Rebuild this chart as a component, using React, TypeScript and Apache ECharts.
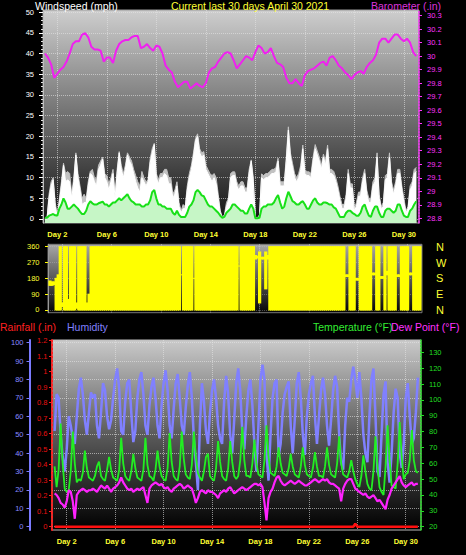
import React, { useEffect, useRef } from "react";
import * as echarts from "echarts";

// ---------- tick labels ----------
const dayTicks = [2, 6, 10, 14, 18, 22, 26, 30];
const windLabelTicks = [0, 5, 10, 15, 20, 25, 30, 35, 40, 45, 50];
const windMinorTicks = [0,1,2,3,4,5,6,7,8,9,10,11,12,13,14,15,16,17,18,19,20,21,22,23,24,25,26,27,28,29,30,31,32,33,34,35,36,37,38,39,40,41,42,43,44,45,46,47,48,49,50];
const baroTicks = [28.8, 28.9, 29, 29.1, 29.2, 29.3, 29.4, 29.5, 29.6, 29.7, 29.8, 29.9, 30, 30.1, 30.2, 30.3];
const dirTicks = [0, 90, 180, 270, 360];
const dirLetters = ["N", "E", "S", "W", "N"];
const humTicks = [0, 10, 20, 30, 40, 50, 60, 70, 80, 90, 100];
const rainTicks = [0, 0.1, 0.2, 0.3, 0.4, 0.5, 0.6, 0.7, 0.8, 0.9, 1, 1.1, 1.2];
const tempTicks = [20, 30, 40, 50, 60, 70, 80, 90, 100, 110, 120, 130];

// ---------- series (day 1 .. day 31) ----------
// barometer, 4 samples per day
const barometer = [
  30.02,29.99,29.94,29.84, 29.87,29.90,29.92,29.96, 30.02,30.09,30.11,30.11, 30.16,30.17,30.14,30.07,
  30.05,30.05,30.04,29.96, 29.99,29.99,29.95,30.04, 30.09,30.11,30.12,30.12, 30.14,30.15,30.15,30.06,
  30.07,30.09,30.06,30.04, 30.08,30.07,30.02,29.93, 29.90,29.88,29.81,29.77, 29.79,29.81,29.81,29.76,
  29.78,29.80,29.78,29.77, 29.80,29.88,29.91,29.92, 29.96,29.99,30.02,30.03, 30.02,29.97,29.91,29.94,
  29.97,30.00,29.99,29.97, 30.03,30.08,30.06,30.02, 30.03,30.06,30.00,29.95, 29.94,29.92,29.84,29.80,
  29.80,29.83,29.80,29.78, 29.86,29.89,29.90,29.91, 29.93,29.95,29.96,29.93, 29.99,30.00,29.97,29.93,
  29.91,29.88,29.86,29.83, 29.86,29.88,29.89,29.87, 29.92,29.95,29.97,30.01, 30.10,30.13,30.13,30.10,
  30.13,30.16,30.16,30.13, 30.11,30.13,30.10,30.03, 30.00,
];

// wind, 6 samples per day
const gustMax = [
  0,0,6,9,10,4, 1,5,9,13.5,11,11.5, 11,6,10,16,11,8, 5,6,5,9,11.5,12, 10,9.5,13,14,15,11,
  10.5,8.5,10,12,6,12, 16.3,13,11,13,16,15, 14,12,10.5,9,8,11.5, 10,9,9.5,14.5,17,18.3, 11,9.5,11,11,12,12,
  10,10,6,7,9,4, 2,3.5,3,8,11,13, 16,19.5,20.6,17,16,16.3, 13,12,11,10.5,11,10, 6,2,0.5,1,4,5,
  11,11.4,11.4,9,8,9, 9,7.5,7.5,12,14.3,10, 0.5,0.3,1,10.9,10.5,11, 11,11.5,12,12,12.5,14.7, 9,9,9,15,22.3,16,
  13.5,11,10,11,13,17.9, 12,11.4,11.4,11,15,18, 16.5,15,12.9,15.7,14,17.9, 12,12,11.5,10,8,5.5, 3.5,3.5,6,12,8.5,8.5,
  2.5,4,6.5,6.5,10,12, 7,5,5,9,10,16, 6,3,4,10.5,11,16, 9,7,9,12,12,8, 5,2,3,8,9,12,
  12.5,
];
const gust = [
  0,0,5,8,9.5,3, 0.5,4,8,13,9,9.5, 9,5,9,15.5,10,7, 3.5,4,4,8,11,10.5, 9,8,12,13,14.5,10,
  9,7,9,11,5,11, 16,12,10,12,15.5,14, 13,11,9,7.5,6.5,10, 9,8,9,13.5,16,18, 10,8.5,10,10,11,10.5,
  8.5,8.5,5,6,8,3, 1.5,2.5,2.5,7,10,12, 15,19,20,16,15,15.5, 12,11,10,9,10,8.5, 5,1.5,0.3,0.5,3,4.5,
  10,10.5,10.5,8,7,8, 8,6.5,6.5,11,14,9, 0.3,0.2,0.5,10,9.5,10, 10,10.5,11,11,11.5,14, 8,8,8,14,21.5,15,
  12.5,10,9,10,12,17, 11,10.5,10.5,10,14,17, 15.5,14,12,15,13,17, 11,11,10.5,9,7,4.5, 2.5,2.5,5,11,7.5,7.5,
  2,3,5.5,5.5,9,11, 6,4,4,8,9,15, 5,2.5,3,9.5,10,15, 8,6,8,11,11,7, 4,1.5,2.5,7,8,11,
  11.5,
];
const windAvg = [
  0.3,0.3,0.8,1,1.2,0.9, 0.8,2.5,3.5,5,4,2.5, 2.5,3,3.5,3,2.5,1.8, 1.2,1.2,2,3.5,4.3,3.8, 3.5,3.5,3.8,4,4.2,3.5,
  3.5,3,3.5,4,4,4.5, 5,4.5,5,5.5,6,5, 4.3,4,3.5,3.5,3.5,3, 3,3.5,3.5,4.5,6.5,7, 5,3.5,3.5,3,3,2.5,
  2.5,2.5,1.5,1,2,1, 0.5,0.5,0.5,1.5,3,3.5, 4.5,6.5,7,6.5,5.7,5.5, 4.5,3.5,3,3,2.5,2, 1.5,0.8,0.3,0.5,1.5,2,
  2.5,3.5,3.5,3,2.5,2, 2,1.3,1.3,2.5,3.5,2.5, 0.2,0.2,0.3,2.5,3,3, 3.5,3.5,3.5,4,5,5.8, 4,2.5,3,5,6.6,5.5,
  4.3,4,3.5,3.5,4,4.3, 3.5,2.5,2.5,3.5,4.5,5, 4,3.5,3.5,4,4,3.8, 3.5,3.5,2.8,2.5,1.5,0.5, 0.5,0.5,1.5,2,2,1.5,
  1.2,0.8,0.8,1.5,3,3.5, 2,0.8,0.5,2,3,3, 1.5,0.5,0.5,2,2.5,2.5, 2,1.5,2,3.5,3.5,2, 0.8,0.5,0.5,2,2.5,3.5,
  4.3,
];

// wind direction spread (degrees), 6 samples per day
const windDirLow = [
  140,140,145,0,0,0, 20,0,0,0,0,0, 0,10,0,0,0,0, 0,0,0,0,0,0, 0,0,0,0,0,0,
  0,0,0,0,0,0, 0,0,0,0,0,0, 0,0,0,0,0,0, 0,0,0,0,0,0, 0,0,0,0,0,0,
  0,0,0,0,200,0, 0,0,0,0,180,0, 0,0,0,0,0,0, 0,0,0,0,0,0, 0,0,0,0,0,0,
  0,0,250,0,0,0, 0,0,0,0,290,295, 40,290,290,120,290,0, 0,0,0,0,0,0, 0,0,0,0,0,0,
  0,0,0,0,0,0, 0,0,0,0,0,0, 0,0,0,0,0,0, 0,0,0,0,0,0, 190,190,0,0,0,170,
  170,0,0,0,0,0, 0,200,200,0,0,180, 180,0,200,0,0,0, 0,190,190,0,0,0, 0,200,200,0,0,0,
  0,
];
const windDirHigh = [
  165,160,160,180,200,360, 40,360,360,60,360,360, 360,40,360,360,360,360, 40,90,360,360,360,360, 360,360,360,360,360,360,
  360,360,360,360,360,360, 360,360,360,360,360,360, 360,360,360,360,360,360, 360,360,360,360,360,360, 360,360,360,360,360,360,
  360,360,360,360,200,360, 360,360,360,360,180,360, 360,360,360,360,360,360, 360,360,360,360,360,360, 360,360,360,360,360,360,
  360,360,250,360,360,360, 360,360,360,360,310,305, 330,300,300,330,310,360, 360,360,360,360,360,360, 360,360,360,360,360,360,
  360,360,360,360,360,360, 360,360,360,360,360,360, 360,360,360,360,360,360, 360,360,360,360,360,360, 200,200,360,360,360,180,
  180,360,360,360,360,360, 360,210,210,360,360,190, 190,360,220,360,360,360, 360,200,200,360,360,360, 360,210,210,360,360,360,
  360,
];

// bottom panel, 6 samples per day
const humidity = [
  52,72,70,50,38,30, 42,60,55,48,45,60, 75,81,72,58,50,62, 73,70,72,55,48,62, 78,74,60,53,58,70,
  80,86,75,52,50,68, 78,80,62,46,52,70, 80,84,72,55,50,66, 76,81,70,55,48,66, 78,85,74,55,48,64,
  78,83,70,55,50,65, 77,84,70,48,35,20, 55,78,68,52,45,62, 74,80,70,55,48,45, 68,82,72,50,40,58,
  78,86,74,52,42,60, 74,80,66,45,30,55, 80,88,80,40,25,50, 70,78,80,38,45,62, 72,76,79,55,40,58,
  78,84,70,50,39,60, 72,78,82,60,45,60, 74,81,72,55,44,58, 74,82,76,50,35,31, 55,70,68,80,87,80,
  70,84,70,50,40,35, 60,80,86,60,30,27, 50,72,79,35,24,40, 62,75,70,40,32,45, 70,78,60,45,48,62,
  81,
];
const temperature = [
  58,45,56,85,60,44, 42,43,55,80,60,48, 50,49,54,68,57,51, 50,49,52,58,61,52, 50,49,56,64,56,51,
  50,49,56,76,60,52, 50,49,55,66,57,51, 50,49,56,76,59,52, 51,49,56,68,58,52, 50,49,57,79,61,52,
  50,49,58,80,63,53, 51,50,59,80,64,54, 51,49,55,64,66,52, 50,49,57,74,61,52, 50,49,57,74,61,52,
  50,52,62,83,62,52, 52,51,60,75,60,53, 52,51,62,84,64,54, 53,52,58,70,60,54, 53,52,57,66,58,53,
  52,51,58,70,59,53, 52,51,57,67,58,52, 52,51,58,70,59,53, 52,51,60,77,60,53, 52,51,55,62,55,50,
  47,45,52,65,55,47, 44,43,55,77,58,45, 42,40,58,84,62,46, 45,44,60,86,64,50, 53,54,62,81,62,55,
  54,
];
const dewPoint = [
  41,40,38,35,34,32, 36,43,42,36,25,40, 42,43,44,43,42,43, 43,44,43,42,44,46, 45,44,46,44,42,44,
  45,46,48,51,48,46, 44,43,44,42,43,44, 43,44,45,40,35,44, 46,47,48,47,46,47, 45,44,45,43,42,44,
  45,46,47,46,44,45, 46,45,44,40,35,38, 42,43,42,41,43,42, 42,41,40,38,41,42, 43,42,44,45,43,41,
  42,43,44,45,44,43, 44,45,46,47,47,46, 47,45,35,24,38,42, 44,48,51,52,49,47, 46,47,48,49,48,47,
  48,49,48,47,46,46, 47,48,49,50,49,48, 49,50,49,50,48,47, 47,46,45,44,36,44, 47,49,50,50,47,44,
  43,42,41,40,41,39, 38,39,40,38,36,37, 35,33,31,37,40,44, 46,48,50,52,48,46, 45,46,47,48,46,47,
  47,
];
const rainfall = [
  0,0,0,0,0,0, 0,0,0,0,0,0, 0,0,0,0,0,0, 0,0,0,0,0,0, 0,0,0,0,0,0,
  0,0,0,0,0,0, 0,0,0,0,0,0, 0,0,0,0,0,0, 0,0,0,0,0,0, 0,0,0,0,0,0,
  0,0,0,0,0,0, 0,0,0,0,0,0, 0,0,0,0,0,0, 0,0,0,0,0,0, 0,0,0,0,0,0,
  0,0,0,0,0,0, 0,0,0,0,0,0, 0,0,0,0,0,0, 0,0,0,0,0,0, 0,0,0,0,0,0,
  0,0,0,0,0,0, 0,0,0,0,0,0, 0,0,0,0,0,0, 0,0,0,0,0,0, 0,0,0,0,0,0.02,
  0,0,0,0,0,0, 0,0,0,0,0,0, 0,0,0,0,0,0, 0,0,0,0,0,0, 0,0,0,0,0,0,
  0,
];

const FONT = '"Liberation Sans", Arial, sans-serif';
const STEP = 1 / 6;
const at6 = (arr: number[]) => arr.map((v, i) => [1 + i * STEP, v]);
const at4 = (arr: number[]) => arr.map((v, i) => [1 + i / 4, v]);
const fmt1 = (v: number) => String(Math.round(v * 10) / 10);

const dotted = { show: true, lineStyle: { type: "dotted" as const, color: "rgba(228,228,228,0.6)", width: 1 } };
const grad = (stops: [number, string][]) =>
  new echarts.graphic.LinearGradient(0, 0, 0, 1, stops.map(([offset, color]) => ({ offset, color })));

function xAxisFor(gridIndex: number, min: number, max: number, labels: boolean) {
  return {
    type: "value", gridIndex, min, max,
    axisLine: { show: false },
    axisTick: { show: false, customValues: dayTicks },
    axisLabel: {
      show: labels, customValues: dayTicks, formatter: (v: number) => "Day " + v,
      color: "#ffff33", fontSize: 7.5, fontWeight: "bold", fontFamily: FONT, margin: 7,
    },
    splitLine: dotted,
  };
}

export default function App() {
  const ref = useRef<HTMLDivElement>(null);
  useEffect(() => {
    if (!ref.current) return;
    const chart = echarts.init(ref.current, undefined, { renderer: "svg" });
    const lab = (color: string, extra: any = {}) => ({ color, fontSize: 7.5, fontFamily: FONT, ...extra });
    const dirData = windDirLow.map((lo, i) => [1 + i * STEP, lo, windDirHigh[i]]);
    const option: any = {
      animation: false,
      backgroundColor: "#000",
      grid: [
        { left: 43, top: 10, width: 376, height: 213, show: true, borderColor: "#9a9a9a", borderWidth: 1,
          backgroundColor: grad([[0, "#cecece"], [1, "#121212"]]) },
        { left: 48, top: 244.3, width: 374, height: 68.4, show: true, borderColor: "#777", borderWidth: 1,
          backgroundColor: grad([[0, "#a8a8a8"], [1, "#050505"]]) },
        { left: 52, top: 340, width: 369, height: 190, show: true, borderColor: "#bbbbbb", borderWidth: 1,
          backgroundColor: grad([[0, "#cacaca"], [0.5, "#5a5a5a"], [1, "#000000"]]) },
      ],
      xAxis: [
        xAxisFor(0, 0.845, 31.22, true),
        xAxisFor(1, 0.838, 31.17, false),
        xAxisFor(2, 0.785, 31.26, true),
      ],
      yAxis: [
        { type: "value", gridIndex: 0, position: "left", min: -0.97, max: 50.56,
          axisLine: { show: true, lineStyle: { color: "#bdbdbd" } },
          axisTick: { show: true, customValues: windMinorTicks, length: 2, lineStyle: { color: "#e0e0e0" } },
          axisLabel: { customValues: windLabelTicks, margin: 9, ...lab("#ffffff") },
          splitLine: { show: false } },
        { type: "value", gridIndex: 0, position: "left", min: -0.97, max: 50.56,
          axisLine: { show: false },
          axisTick: { show: true, customValues: windLabelTicks, length: 4, lineStyle: { color: "#ffffff" } },
          axisLabel: { show: false }, splitLine: dotted },
        { type: "value", gridIndex: 0, position: "right", min: 28.765, max: 30.342,
          axisLine: { show: true, lineStyle: { color: "#ff33ff", type: "dotted", width: 1.5 } },
          axisTick: { show: true, customValues: baroTicks, length: 3, lineStyle: { color: "#ff33ff" } },
          axisLabel: { customValues: baroTicks, margin: 8, formatter: fmt1, ...lab("#ff33ff") },
          splitLine: { show: false } },
        { type: "value", gridIndex: 1, position: "left", min: -15.4, max: 373.6,
          axisLine: { show: true, lineStyle: { color: "#999" } },
          axisTick: { show: true, customValues: dirTicks, length: 3, lineStyle: { color: "#ffff00" } },
          axisLabel: { customValues: dirTicks, margin: 8.5, ...lab("#ffff33") },
          splitLine: { show: true, lineStyle: { type: "dotted", color: "rgba(200,200,200,0.35)" } } },
        { type: "value", gridIndex: 1, position: "right", min: -15.4, max: 373.6,
          axisLine: { show: false }, axisTick: { show: false, customValues: dirTicks },
          axisLabel: { customValues: dirTicks, margin: 14, formatter: (v: number) => dirLetters[dirTicks.indexOf(v)] ?? "",
            color: "#ffff33", fontSize: 11, fontFamily: FONT },
          splitLine: { show: false } },
        { type: "value", gridIndex: 2, position: "left", offset: 22.5, min: -1.79, max: 101.47,
          axisLine: { show: true, lineStyle: { color: "#7b7bff", width: 2 } },
          axisTick: { show: true, customValues: humTicks, length: 3, lineStyle: { color: "#7b7bff" } },
          axisLabel: { customValues: humTicks, margin: 6, ...lab("#8a8aff") },
          splitLine: dotted },
        { type: "value", gridIndex: 2, position: "left", min: -0.0213, max: 1.2045,
          axisLine: { show: true, lineStyle: { color: "#ff2020", type: "dotted", width: 2 } },
          axisTick: { show: true, customValues: rainTicks, length: 3, lineStyle: { color: "#ff2020" } },
          axisLabel: { customValues: rainTicks, margin: 4.5, formatter: fmt1, ...lab("#e81010") },
          splitLine: { show: false } },
        { type: "value", gridIndex: 2, position: "right", min: 17.92, max: 137.76,
          axisLine: { show: true, lineStyle: { color: "#22dd22", type: "dotted", width: 1.5 } },
          axisTick: { show: true, customValues: tempTicks, length: 3, lineStyle: { color: "#22dd22" } },
          axisLabel: { customValues: tempTicks, margin: 8, ...lab("#22dd22") },
          splitLine: { show: false } },
      ],
      series: [
        { type: "line", name: "Gust max", xAxisIndex: 0, yAxisIndex: 0, data: at6(gustMax), symbol: "none", silent: true,
          lineStyle: { color: "#c2c2c2", width: 1 }, areaStyle: { color: "#c2c2c2", opacity: 1, origin: "start" } },
        { type: "line", name: "Gust", xAxisIndex: 0, yAxisIndex: 0, data: at6(gust), symbol: "none", silent: true,
          lineStyle: { color: "#ffffff", width: 1 }, areaStyle: { color: "#ffffff", opacity: 1, origin: "start" } },
        { type: "line", name: "Wind speed", xAxisIndex: 0, yAxisIndex: 0, data: at6(windAvg), symbol: "none", silent: true,
          lineStyle: { color: "#18e018", width: 2 }, areaStyle: { color: "#c6f6c6", opacity: 1, origin: "start" } },
        { type: "line", name: "Barometer", xAxisIndex: 0, yAxisIndex: 2, data: at4(barometer), symbol: "none", silent: true,
          lineStyle: { color: "#f020f0", width: 2 } },
        { type: "custom", name: "Wind direction", xAxisIndex: 1, yAxisIndex: 3, data: dirData, silent: true,
          encode: { x: 0, y: [1, 2] },
          renderItem: (_params: any, api: any) => {
            const t = api.value(0);
            const top = api.coord([t - STEP / 2, api.value(2)]);
            const bot = api.coord([t + STEP / 2, api.value(1)]);
            return {
              type: "rect",
              shape: { x: top[0] - 0.6, y: top[1] - 0.5, width: bot[0] - top[0] + 1.2, height: Math.max(bot[1] - top[1], 0) + 1 },
              style: { fill: "#ffff00" },
            };
          } },
        { type: "line", name: "Humidity", xAxisIndex: 2, yAxisIndex: 5, data: at6(humidity), symbol: "none", silent: true,
          lineStyle: { color: "#8080ff", width: 2.5 } },
        { type: "line", name: "Temperature", xAxisIndex: 2, yAxisIndex: 7, data: at6(temperature), symbol: "none", silent: true,
          lineStyle: { color: "#22ee22", width: 1.8 } },
        { type: "line", name: "Dew Point", xAxisIndex: 2, yAxisIndex: 7, data: at6(dewPoint), symbol: "none", silent: true,
          lineStyle: { color: "#ff22ff", width: 2.2 } },
        { type: "line", name: "Rainfall", xAxisIndex: 2, yAxisIndex: 6, data: at6(rainfall), symbol: "none", silent: true,
          lineStyle: { color: "#ff1010", width: 2.5 } },
      ],
      graphic: [
        { type: "text", x: 35, y: 6, style: { text: "Windspeed (mph)", fill: "#ffffff", font: `10.5px ${FONT}`, align: "left", verticalAlign: "middle" } },
        { type: "text", x: 250, y: 6, style: { text: "Current last 30 days April 30 2021", fill: "#ffff33", font: `10.5px ${FONT}`, align: "center", verticalAlign: "middle" } },
        { type: "text", x: 371, y: 6, style: { text: "Barometer (.in)", fill: "#dd33dd", font: `10.5px ${FONT}`, align: "left", verticalAlign: "middle" } },
        { type: "text", x: 0, y: 327, style: { text: "Rainfall (.in)", fill: "#ff2020", font: `10.5px ${FONT}`, align: "left", verticalAlign: "middle" } },
        { type: "text", x: 67, y: 327, style: { text: "Humidity", fill: "#8080ff", font: `10.5px ${FONT}`, align: "left", verticalAlign: "middle" } },
        { type: "text", x: 313, y: 327, style: { text: "Temperature (°F)", fill: "#33ee33", font: `10.5px ${FONT}`, align: "left", verticalAlign: "middle" } },
        { type: "text", x: 391, y: 327, style: { text: "Dew Point (°F)", fill: "#ff33ff", font: `10.5px ${FONT}`, align: "left", verticalAlign: "middle" } },
      ],
    };
    chart.setOption(option);
    return () => chart.dispose();
  }, []);
  return <div ref={ref} style={{ position: "fixed", left: 0, top: 0, width: 466, height: 555 }} />;
}
